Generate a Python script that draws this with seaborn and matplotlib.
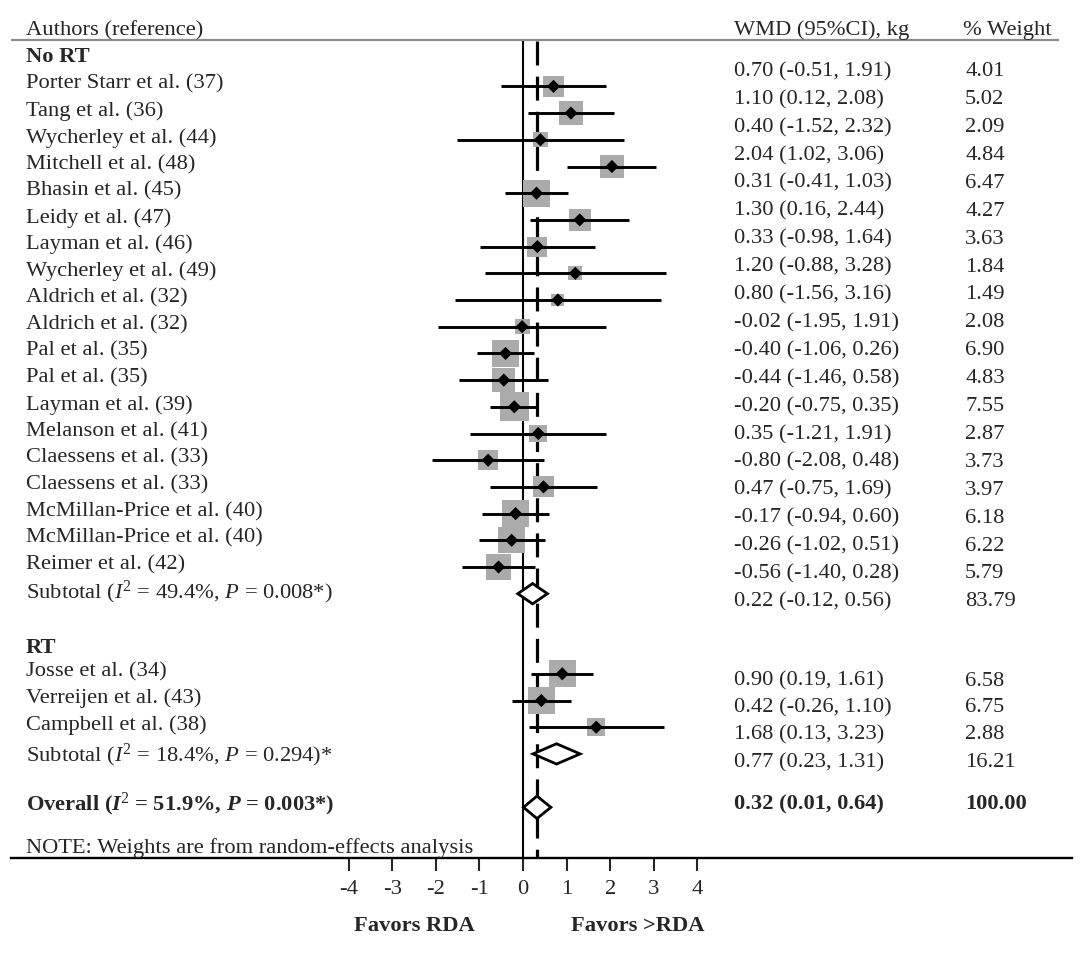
import numpy as np
import pandas as pd
import matplotlib.pyplot as plt
import seaborn as sns
from matplotlib.patches import Polygon

# study data (weighted mean differences, kg)
no_rt_names = ["Porter Starr et al. (37)", "Tang et al. (36)", "Wycherley et al. (44)",
               "Mitchell et al. (48)", "Bhasin et al. (45)", "Leidy et al. (47)",
               "Layman et al. (46)", "Wycherley et al. (49)", "Aldrich et al. (32)",
               "Aldrich et al. (32)", "Pal et al. (35)", "Pal et al. (35)",
               "Layman et al. (39)", "Melanson et al. (41)", "Claessens et al. (33)",
               "Claessens et al. (33)", "McMillan-Price et al. (40)",
               "McMillan-Price et al. (40)", "Reimer et al. (42)"]
no_rt_wmd = [0.70, 1.10, 0.40, 2.04, 0.31, 1.30, 0.33, 1.20, 0.80, -0.02,
             -0.40, -0.44, -0.20, 0.35, -0.80, 0.47, -0.17, -0.26, -0.56]
no_rt_lo = [-0.51, 0.12, -1.52, 1.02, -0.41, 0.16, -0.98, -0.88, -1.56, -1.95,
            -1.06, -1.46, -0.75, -1.21, -2.08, -0.75, -0.94, -1.02, -1.40]
no_rt_hi = [1.91, 2.08, 2.32, 3.06, 1.03, 2.44, 1.64, 3.28, 3.16, 1.91,
            0.26, 0.58, 0.35, 1.91, 0.48, 1.69, 0.60, 0.51, 0.28]
no_rt_w = [4.01, 5.02, 2.09, 4.84, 6.47, 4.27, 3.63, 1.84, 1.49, 2.08,
           6.90, 4.83, 7.55, 2.87, 3.73, 3.97, 6.18, 6.22, 5.79]

rt_names = ["Josse et al. (34)", "Verreijen et al. (43)", "Campbell et al. (38)"]
rt_wmd = [0.90, 0.42, 1.68]
rt_lo = [0.19, -0.26, 0.13]
rt_hi = [1.61, 1.10, 3.23]
rt_w = [6.58, 6.75, 2.88]

# pooled estimates: (wmd, lo, hi, weight)
sub_no_rt = (0.22, -0.12, 0.56, 83.79)
sub_rt = (0.77, 0.23, 1.31, 16.21)
overall = (0.32, 0.01, 0.64, 100.00)

sub_no_rt_label = r"Subtotal ($I^2$ = 49.4%, $P$ = 0.008*)"
sub_rt_label = r"Subtotal ($I^2$ = 18.4%, $P$ = 0.294)*"
overall_label = r"Overall ($\mathbf{I}^2$ = 51.9%, $\mathbf{P}$ = 0.003*)"

ticks = [-4, -3, -2, -1, 0, 1, 2, 3, 4]

sns.set_style("white")
plt.rcParams["font.family"] = ["Liberation Serif", "DejaVu Serif"]
plt.rcParams["mathtext.fontset"] = "custom"
plt.rcParams["mathtext.rm"] = "Liberation Serif"
plt.rcParams["mathtext.it"] = "Liberation Serif:italic"
plt.rcParams["mathtext.bf"] = "Liberation Serif:bold:italic"

# rows
no_rt_rows = list(range(2, 2 + len(no_rt_names)))
sub1_row = no_rt_rows[-1] + 1
rt_label_row = sub1_row + 2
rt_rows = list(range(rt_label_row + 1, rt_label_row + 1 + len(rt_names)))
sub2_row = rt_rows[-1] + 1
overall_row = sub2_row + 2

df = pd.DataFrame({
    "name": no_rt_names + rt_names,
    "wmd": no_rt_wmd + rt_wmd,
    "lo": no_rt_lo + rt_lo,
    "hi": no_rt_hi + rt_hi,
    "weight": no_rt_w + rt_w,
    "row": no_rt_rows + rt_rows,
})

fig = plt.figure(figsize=(10.8, 9.59), dpi=100)
ax = fig.add_axes([0, 0, 1, 1])
px = 43.6
ax.set_xlim(-523 / px, (1080 - 523) / px)
ax.set_ylim((959 - 33) / 26.7, -33 / 26.7)

fs = 16.2
x_left = -11.4
x_wmd = 4.84
x_w = 10.14
top_line = 0.26
bot_line = 30.9

# squares sized by weight and CI lines
ax.hlines(df["row"], df["lo"], df["hi"], color="black", lw=2.1, zorder=3)
wmax = df["weight"].max()
sns.scatterplot(data=df, x="wmd", y="row", size="weight", sizes=(0, 58 * wmax),
                size_norm=(0, wmax), marker="s", color="#ababab", edgecolor="none",
                legend=False, ax=ax, zorder=2)
sns.scatterplot(data=df, x="wmd", y="row", marker="D", color="black", s=45,
                edgecolor="none", legend=False, ax=ax, zorder=4)

# reference lines
ax.vlines(0, top_line, bot_line, color="black", lw=1.5, zorder=1)
ax.vlines(overall[0], top_line + 0.05, bot_line, color="black", lw=2.3,
          linestyles=(0, (7.5, 3.5)), zorder=1)


def diamond(row, est, lo, hi, h):
    poly = Polygon([[lo, row], [est, row - h], [hi, row], [est, row + h]],
                   closed=True, facecolor="white", edgecolor="black", lw=2.0, zorder=5)
    ax.add_patch(poly)


diamond(sub1_row, sub_no_rt[0], sub_no_rt[1], sub_no_rt[2], 0.38)
diamond(sub2_row, sub_rt[0], sub_rt[1], sub_rt[2], 0.38)
diamond(overall_row, overall[0], overall[1], overall[2], 0.42)

# header and rules
ax.text(x_left, -0.1, "Authors (reference)", fontsize=fs, va="center")
ax.text(x_wmd, -0.1, "WMD (95%CI), kg", fontsize=fs, va="center")
ax.text(x_w - 0.05, -0.1, "% Weight", fontsize=fs, va="center")
ax.hlines(top_line, -11.75, 12.3, color="#8c8c8c", lw=1.6)

ax.text(x_left, 0.9, "No RT", fontsize=fs, fontweight="bold", va="center")
ax.text(x_left, rt_label_row + 0.02, "RT", fontsize=fs, fontweight="bold", va="center")

for _, r in df.iterrows():
    ax.text(x_left, r["row"] - 0.08, r["name"], fontsize=fs, va="center")
    if r["row"] < sub1_row:
        ry = r["row"] - 0.55 + 0.045 * (r["row"] - 2)
    else:
        ry = r["row"] + 0.28
    ax.text(x_wmd, ry, f"{r['wmd']:.2f} ({r['lo']:.2f}, {r['hi']:.2f})", fontsize=fs, va="center")
    ax.text(x_w, ry, f"{r['weight']:.2f}", fontsize=fs, va="center")

ax.text(x_left, sub1_row - 0.05, sub_no_rt_label, fontsize=fs, va="center")
ax.text(x_wmd, sub1_row + 0.3, f"{sub_no_rt[0]:.2f} ({sub_no_rt[1]:.2f}, {sub_no_rt[2]:.2f})",
        fontsize=fs, va="center")
ax.text(x_w, sub1_row + 0.3, f"{sub_no_rt[3]:.2f}", fontsize=fs, va="center")

ax.text(x_left, sub2_row + 0.05, sub_rt_label, fontsize=fs, va="center")
ax.text(x_wmd, sub2_row + 0.33, f"{sub_rt[0]:.2f} ({sub_rt[1]:.2f}, {sub_rt[2]:.2f})",
        fontsize=fs, va="center")
ax.text(x_w, sub2_row + 0.33, f"{sub_rt[3]:.2f}", fontsize=fs, va="center")

ax.text(x_left, overall_row - 0.1, overall_label, fontsize=fs, fontweight="bold", va="center")
ax.text(x_wmd, overall_row - 0.12, f"{overall[0]:.2f} ({overall[1]:.2f}, {overall[2]:.2f})",
        fontsize=fs, fontweight="bold", va="center")
ax.text(x_w, overall_row - 0.12, f"{overall[3]:.2f}", fontsize=fs, fontweight="bold", va="center")

ax.text(x_left, bot_line - 0.38, "NOTE: Weights are from random-effects analysis",
        fontsize=fs, va="center")

# bottom axis
sns.despine(ax=ax, left=True, top=True, right=True, bottom=False)
ax.spines["bottom"].set_position(("data", bot_line))
ax.spines["bottom"].set_bounds(-11.75, 12.6)
ax.spines["bottom"].set_linewidth(1.7)
ax.spines["bottom"].set_color("black")
ax.set_xticks(ticks)
ax.set_xticklabels([str(t) for t in ticks], fontsize=fs)
ax.tick_params(axis="x", direction="out", length=9, width=1.5, pad=7, bottom=True)
ax.set_yticks([])
ax.set_xlabel("")
ax.set_ylabel("")

ax.text(-2.48, 33.45, "Favors RDA", fontsize=fs, fontweight="bold", ha="center", va="center")
ax.text(2.64, 33.45, "Favors >RDA", fontsize=fs, fontweight="bold", ha="center", va="center")

fig.savefig("out.png", dpi=100)
